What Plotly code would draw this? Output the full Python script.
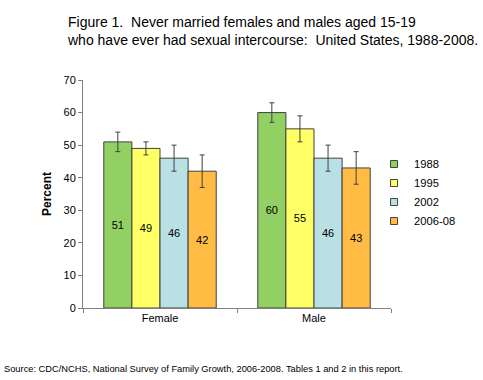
import plotly.graph_objects as go

categories = ["Female", "Male"]
series_names = ["1988", "1995", "2002", "2006-08"]
values = {
    "1988": [51, 60],
    "1995": [49, 55],
    "2002": [46, 46],
    "2006-08": [42, 43],
}
errors = {
    "1988": [3, 3],
    "1995": [2, 4],
    "2002": [4, 4],
    "2006-08": [5, 5],
}
colors = {
    "1988": "#92D064",
    "1995": "#FFFF66",
    "2002": "#B9E0E4",
    "2006-08": "#FFBB44",
}

fig = go.Figure()
for s in series_names:
    fig.add_trace(go.Bar(
        name=s, x=categories, y=values[s], showlegend=False,
        marker=dict(color=colors[s], line=dict(color="#404040", width=1)),
        error_y=dict(type="data", array=errors[s], color="#404040", thickness=1, width=2.5),
        text=[str(v) for v in values[s]],
        textposition="inside", insidetextanchor="middle",
        textfont=dict(family="Liberation Sans, Arial", size=11, color="black"),
        textangle=0,
    ))
# legend entries with small square symbols
for s in series_names:
    fig.add_trace(go.Scatter(
        name=s, x=[None], y=[None], mode="markers",
        marker=dict(symbol="square", size=7, color=colors[s],
                    line=dict(color="#404040", width=1)),
    ))

fig.update_layout(
    width=483, height=380,
    margin=dict(l=83, r=92, t=80, b=72, autoexpand=False),
    paper_bgcolor="white", plot_bgcolor="white",
    barmode="group", bargap=0.27, bargroupgap=0,
    font=dict(family="Liberation Sans, Arial", size=11, color="black"),
    showlegend=True,
    legend=dict(x=0.945, y=0.695, xanchor="left", yanchor="top",
                font=dict(size=11.2), tracegroupgap=0, itemwidth=30,
                bgcolor="rgba(0,0,0,0)"),
    xaxis=dict(showline=True, linecolor="#808080", linewidth=1, automargin=False,
               ticks="outside", tickson="boundaries", ticklen=4, tickcolor="#808080",
               tickfont=dict(size=11)),
    yaxis=dict(range=[0, 70], dtick=10, showline=True, linecolor="#808080", linewidth=1,
               automargin=False,
               ticks="outside", ticklen=4, tickcolor="#808080", showgrid=False,
               zeroline=False, tickfont=dict(size=11),
               title=dict(text="<b>Percent</b>", font=dict(size=12), standoff=9)),
    annotations=[
        dict(text="Figure 1. \u00a0Never married females and males aged 15-19<br>who have ever had sexual intercourse: \u00a0United States, 1988-2008.",
             xref="paper", yref="paper", x=-0.058, y=1.30, xanchor="left", yanchor="top",
             align="left", showarrow=False, font=dict(size=14)),
        dict(text="Source: CDC/NCHS, National Survey of Family Growth, 2006-2008. Tables 1 and 2 in this report.",
             xref="paper", yref="paper", x=-0.262, y=-0.235, xanchor="left", yanchor="top",
             align="left", showarrow=False, font=dict(size=9.3)),
    ],
)

fig.write_html("out.html", config={"displayModeBar": False},
               post_script="document.body.style.margin='0';document.body.style.overflow='hidden';")
